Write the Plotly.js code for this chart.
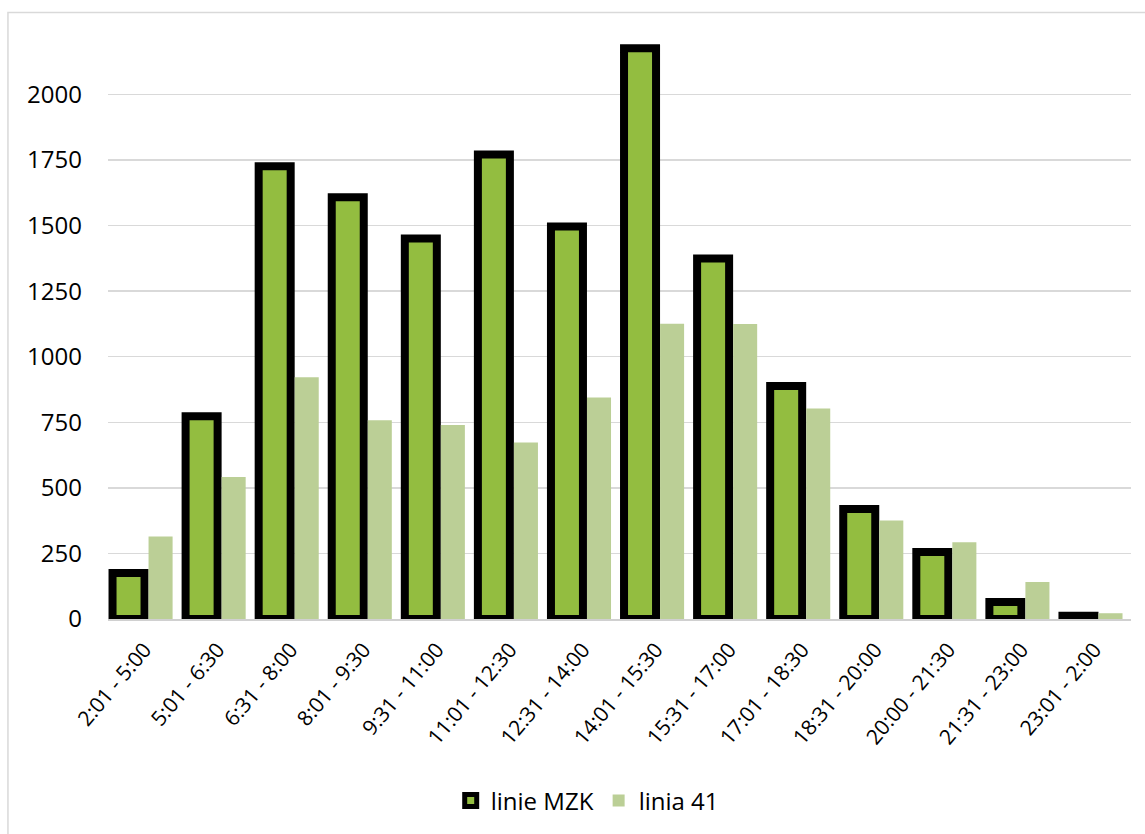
<!DOCTYPE html>
<html>
<head>
<meta charset="utf-8">
<script src="https://cdn.plot.ly/plotly-3.0.1.min.js"></script>
<style>
html,body{margin:0;padding:0;background:#fff;}
#chart{width:1145px;height:834px;}
</style>
</head>
<body>
<div id="chart"></div>
<script>
var categories = ["2:01 - 5:00","5:01 - 6:30","6:31 - 8:00","8:01 - 9:30","9:31 - 11:00","11:01 - 12:30","12:31 - 14:00","14:01 - 15:30","15:31 - 17:00","17:01 - 18:30","18:31 - 20:00","20:00 - 21:30","21:31 - 23:00","23:01 - 2:00"];
var linieMZK = [175, 773, 1726, 1608, 1451, 1771, 1497, 2176, 1375, 888, 419, 255, 65, 12];
var linia41 = [315, 541, 922, 758, 740, 673, 845, 1126, 1125, 803, 376, 293, 141, 22];
var yTicks = [0, 250, 500, 750, 1000, 1250, 1500, 1750, 2000];

var FONT = '"Open Sans", "Liberation Sans", sans-serif';

var traces = [
  {
    type: 'bar',
    name: 'linie MZK',
    x: categories,
    y: linieMZK,
    offset: -0.438,
    width: 0.438,
    marker: {color: '#93bd40', line: {color: '#000000', width: 8}},
    hoverinfo: 'x+y'
  },
  {
    type: 'bar',
    name: 'linia 41',
    x: categories,
    y: linia41,
    offset: 0.055,
    width: 0.329,
    marker: {color: '#bbcf96', line: {width: 0}},
    hoverinfo: 'x+y'
  }
];

var layout = {
  width: 1145,
  height: 834,
  margin: {l: 108, r: 14, t: 42, b: 214},
  paper_bgcolor: '#ffffff',
  plot_bgcolor: '#ffffff',
  barmode: 'overlay',
  showlegend: true,
  font: {family: FONT, color: '#000000', size: 24},
  xaxis: {
    type: 'category',
    tickangle: -50,
    tickfont: {family: FONT, size: 21, color: '#000000'},
    showgrid: false,
    showline: true,
    linecolor: '#d0d0d0',
    linewidth: 2,
    ticks: '',
    ticklabelstandoff: 8,
    fixedrange: true
  },
  yaxis: {
    range: [0, 2200],
    tickmode: 'array',
    tickvals: yTicks,
    ticktext: yTicks.map(String),
    tickfont: {family: FONT, size: 24, color: '#000000'},
    showgrid: true,
    gridcolor: '#d9d9d9',
    gridwidth: 1.5,
    zeroline: false,
    showline: false,
    ticks: '',
    ticklabelstandoff: 25,
    fixedrange: true
  },
  legend: {
    orientation: 'h',
    x: 0.335,
    xanchor: 'left',
    y: -0.313,
    yanchor: 'middle',
    font: {family: FONT, size: 24, color: '#000000'},
    itemwidth: 30,
    bgcolor: 'rgba(0,0,0,0)'
  },
  shapes: [
    {
      type: 'rect', xref: 'paper', yref: 'paper',
      x0: -0.0978, x1: 1.1, y0: -0.6, y1: 1.051,
      line: {color: '#d9d9d9', width: 1.5},
      fillcolor: 'rgba(0,0,0,0)',
      layer: 'below'
    }
  ]
};

Plotly.newPlot('chart', traces, layout, {displayModeBar: false, staticPlot: true});
</script>
</body>
</html>
